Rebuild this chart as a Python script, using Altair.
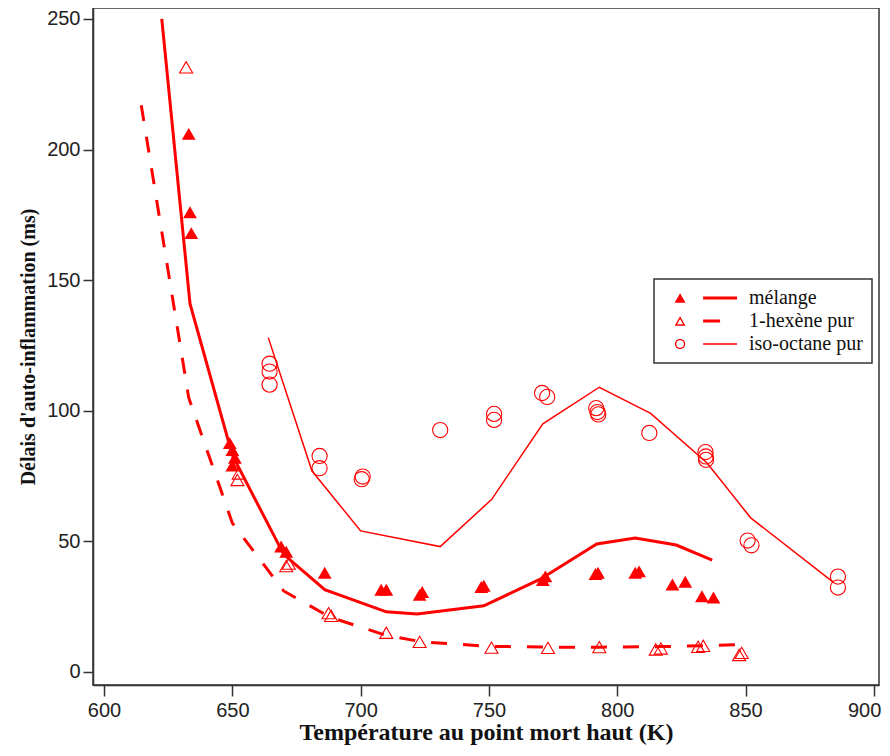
import altair as alt
import pandas as pd
import math

RED = "#ff0000"
SERIES = ["mélange", "1-hexène pur", "iso-octane pur"]

# ---- experimental points ----
mel_T = [633, 633.5, 634, 649, 650, 651, 650, 669, 671, 686, 708, 710, 723, 724, 747, 748,
         771, 772, 791.5, 792.5, 807, 808.5, 821.5, 826.5, 833, 837.5]
mel_v = [206, 176, 168, 87.6, 85, 82, 79, 48, 46, 38, 31.5, 31.5, 29.5, 30.6, 32.5, 33,
         35.2, 36.6, 37.5, 38, 38, 38.5, 33.5, 34.5, 29, 28.5]

hex_T = [632, 652, 652.5, 671, 672, 687.5, 688.5, 710, 723, 751, 773, 793, 815, 817,
         831.5, 833.5, 847.5, 848.5]
hex_v = [231.5, 73.5, 76, 40.5, 41.5, 22.5, 21.5, 15, 11.5, 9.3, 9.2, 9.5, 8.6, 9.0,
         9.6, 10.0, 6.5, 7.3]

oct_T = [664.5, 664.5, 664.5, 684, 684, 700.8, 700.4, 731, 752, 752, 770.7, 772.7,
         791.8, 792.3, 792.6, 812.5, 834.4, 834.5, 834.6, 850.8, 852.3, 886, 886]
oct_v = [118, 115, 110, 82.7, 78, 74.8, 73.8, 92.6, 98.8, 96.5, 106.8, 105.3,
         101, 99.5, 98.6, 91.5, 84.2, 82.5, 81.2, 50.3, 48.5, 36.5, 32.3]

# ---- simulated curves ----
mel_line_T = [622.5, 633.5, 650, 670, 686, 710, 722, 748, 770, 792, 807, 823, 837]
mel_line_v = [250, 141, 83, 45, 31.5, 23, 22.2, 25.3, 35.5, 49, 51.3, 48.6, 42.8]

hex_line_T = [614.5, 633, 650, 670, 688, 710, 724, 750, 773, 793, 816, 833, 848]
hex_line_v = [217, 105, 57, 31, 21, 14, 11.5, 9.8, 9.5, 9.5, 9.7, 10, 10.5]

oct_line_T = [664, 681, 700, 731, 751, 771, 793, 813, 835, 852, 884]
oct_line_v = [128, 77, 54, 48, 66, 95, 109, 99, 80, 59, 34.5]

x_ticks = [600, 650, 700, 750, 800, 850, 900]
y_ticks = [0, 50, 100, 150, 200, 250]

pts = pd.concat([
    pd.DataFrame({"T": mel_T, "v": mel_v, "serie": SERIES[0]}),
    pd.DataFrame({"T": hex_T, "v": hex_v, "serie": SERIES[1]}),
    pd.DataFrame({"T": oct_T, "v": oct_v, "serie": SERIES[2]}),
])
lines = pd.concat([
    pd.DataFrame({"T": mel_line_T, "v": mel_line_v, "serie": SERIES[0]}),
    pd.DataFrame({"T": hex_line_T, "v": hex_line_v, "serie": SERIES[1]}),
    pd.DataFrame({"T": oct_line_T, "v": oct_line_v, "serie": SERIES[2]}),
])

# ---- legend symbols: marker + line sample drawn as filled SVG paths ----
def rect(x0, x1, hh):
    return f"M {x0} {-hh} L {x1} {-hh} L {x1} {hh} L {x0} {hh} Z"

def poly(p):
    return "M " + " L ".join(f"{x:.3f} {y:.3f}" for x, y in p) + " Z"

def tri(cx, w, h):
    return poly([(cx - w / 2, h / 2), (cx, -h / 2), (cx + w / 2, h / 2)])

def tri_ring(cx, w, h, t):
    leg = math.hypot(w / 2, h)
    r = w * h / (w + 2 * leg)
    icy = h / 2 - r
    k = (r - t) / r
    bl = (cx - w / 2 * k, icy + (h / 2 - icy) * k)
    ap = (cx, icy + (-h / 2 - icy) * k)
    br = (cx + w / 2 * k, icy + (h / 2 - icy) * k)
    return tri(cx, w, h) + " " + poly([br, ap, bl])

def circ_ring(cx, r1, r2, n=28):
    o = [(cx + r1 * math.cos(2 * math.pi * i / n), r1 * math.sin(2 * math.pi * i / n)) for i in range(n)]
    i_ = [(cx + r2 * math.cos(-2 * math.pi * i / n), r2 * math.sin(-2 * math.pi * i / n)) for i in range(n)]
    return poly(o) + " " + poly(i_)

sym_mel = tri(-0.81, 0.34, 0.30) + " " + rect(-0.09, 0.97, 0.05)
sym_hex = tri_ring(-0.81, 0.34, 0.30, 0.045) + " " + rect(-0.09, 0.44, 0.05)
sym_oct = circ_ring(-0.81, 0.16, 0.12) + " " + rect(-0.09, 0.97, 0.025)

x_scale = alt.Scale(domain=[595.7, 902], nice=False, zero=False)
y_scale = alt.Scale(domain=[-5, 254.2], nice=False, zero=False)

x_enc = alt.X("T:Q", scale=x_scale,
              axis=alt.Axis(title="Température au point mort haut (K)", values=x_ticks,
                            tickSize=11, labelPadding=4, titlePadding=0, titleFontSize=24,
                            labelFlush=6, labelFlushOffset=7))
y_enc = alt.Y("v:Q", scale=y_scale,
              axis=alt.Axis(title="Délais d'auto-inflammation (ms)", values=y_ticks,
                            tickSize=10, labelPadding=3, titlePadding=8, titleFontSize=20))

base_l = alt.Chart(lines)
line_mel = base_l.transform_filter(alt.datum.serie == SERIES[0]).mark_line(
    color=RED, strokeWidth=3).encode(x=x_enc, y=y_enc)
line_hex = base_l.transform_filter(alt.datum.serie == SERIES[1]).mark_line(
    color=RED, strokeWidth=3, strokeDash=[16, 16]).encode(x="T:Q", y="v:Q")
line_oct = base_l.transform_filter(alt.datum.serie == SERIES[2]).mark_line(
    color=RED, strokeWidth=1.5).encode(x="T:Q", y="v:Q")

base_p = alt.Chart(pts)
pt_mel = base_p.transform_filter(alt.datum.serie == SERIES[0]).mark_point(
    shape="triangle-up", filled=True, color=RED, size=190, opacity=1).encode(x="T:Q", y="v:Q")
pt_hex = base_p.transform_filter(alt.datum.serie == SERIES[1]).mark_point(
    shape="triangle-up", filled=False, color=RED, size=170, strokeWidth=1.1, opacity=1).encode(x="T:Q", y="v:Q")
pt_oct = base_p.transform_filter(alt.datum.serie == SERIES[2]).mark_point(
    shape="circle", filled=False, color=RED, size=230, strokeWidth=1.1, opacity=1).encode(x="T:Q", y="v:Q")

legend_df = pd.DataFrame({"serie": SERIES})
legend_layer = alt.Chart(legend_df).mark_point(filled=True, opacity=0, color=RED).encode(
    shape=alt.Shape("serie:N",
                    scale=alt.Scale(domain=SERIES, range=[sym_mel, sym_hex, sym_oct]),
                    legend=alt.Legend(title=None, orient="none", legendX=561, legendY=271,
                                      symbolSize=4096, symbolFillColor=RED,
                                      symbolStrokeWidth=0, symbolOpacity=1,
                                      symbolOffset=11, labelOffset=11, clipHeight=20,
                                      labelFont="Liberation Serif", labelFontSize=20,
                                      labelColor="#111", padding=9, rowPadding=3,
                                      strokeColor="#333", fillColor="white")))

chart = alt.layer(line_mel, line_hex, line_oct, pt_mel, pt_hex, pt_oct, legend_layer).properties(
    width=786, height=677,
    autosize=alt.AutoSizeParams(type="none"),
    padding={"left": 85, "top": 0, "right": 3, "bottom": 62},
).configure_view(stroke="#333", strokeWidth=1.5).configure_axis(
    grid=False, domainColor="#333", domainWidth=1.5, tickColor="#333", tickWidth=1.5,
    labelFont="Liberation Sans", labelFontSize=20, labelColor="#222",
    titleFont="Liberation Serif", titleFontWeight="bold", titleColor="#111",
).configure_legend(strokeWidth=1.5)

chart.save("out.html", embed_options={"renderer": "svg", "actions": False})
